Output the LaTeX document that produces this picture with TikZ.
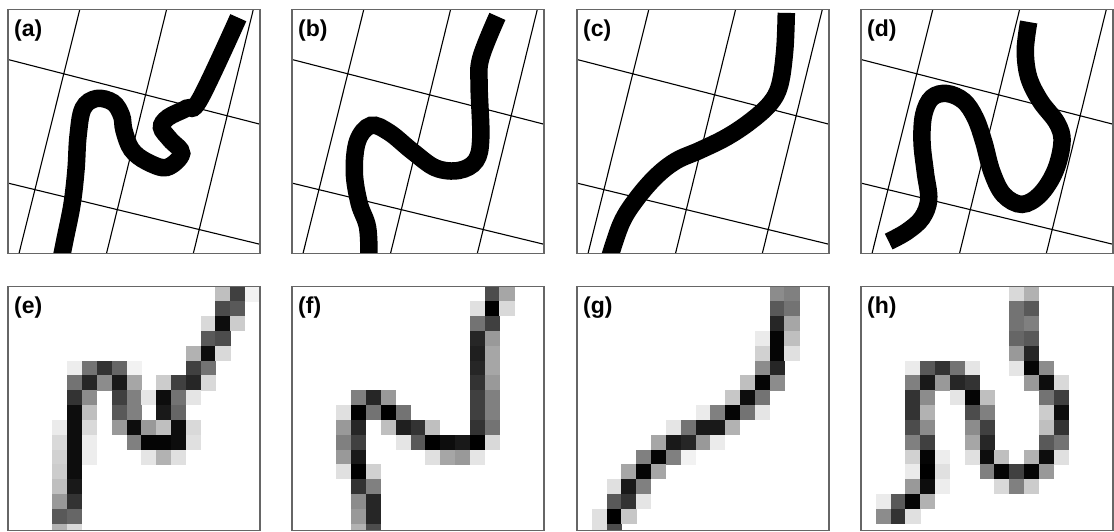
\documentclass[tikz,border=0pt]{standalone}
\usepackage{fontspec}
\setmainfont{Liberation Sans}
\newcommand\mygrid{\draw[gridln] (71.8,0) -- (11,244) (158.6,0) -- (98.5,244) (245.3,0) -- (185.3,244) (0,50) -- (252,114.7) (0,173.6) -- (252,234.8);}
\newcommand\mypixels[1]{\foreach \c/\r/\d in {#1} {\fill[black!\d] (\c*14.82,\r*14.82) rectangle ++(15.1,15.1);}}
\begin{document}
\begin{tikzpicture}[x=1pt,y=-1pt,
  frame/.style={draw=black!60,line width=1.6pt},
  gridln/.style={draw=black,line width=1.1pt},
  curve/.style={draw=black,line width=17.5pt},
  lbl/.style={anchor=north west,inner sep=0pt,font=\fontsize{23}{23}\selectfont\bfseries}]
\useasboundingbox (0,0) rectangle (1114,532);
\fill[white] (0,0) rectangle (1114,532);
% (a)
\begin{scope}[shift={(8,9.5)}]
 \begin{scope}
  \clip (0,0) rectangle (252,244);
  \mygrid
  \draw[curve] plot[smooth,tension=0.6] coordinates {(53,250) (57,230) (64,195) (68,160) (70,127) (75,99) (88.5,89) (105,93) (113.5,106) (116,121) (123.5,140) (138.5,152) (158.6,158) (173.6,144) (162,130) (153.5,118) (160,108) (178.6,98.7) (191.9,89.8) (230.3,8.2)};
 \end{scope}
 \draw[frame] (0,0) rectangle (252,244);
 \node[lbl] (la) at (6,10) {(a)};
\end{scope}
% (b)
\begin{scope}[shift={(292,9.5)}]
 \begin{scope}
  \clip (0,0) rectangle (252,244);
  \mygrid
  \draw[curve] plot[smooth,tension=0.6] coordinates {(77,250) (75.6,218) (67.2,193.8) (62.3,162.7) (65.6,131.5) (78.9,115.9) (97.2,122.9) (120.5,141.9) (143.8,158.5) (167.1,160.9) (183.8,151.2) (188.8,128.1) (187.1,76.1) (188.8,48.5) (205.4,6.9)};
 \end{scope}
 \draw[frame] (0,0) rectangle (252,244);
 \node[lbl] (lb) at (6,10) {(b)};
\end{scope}
% (c)
\begin{scope}[shift={(577,9.5)}]
 \begin{scope}
  \clip (0,0) rectangle (252,244);
  \mygrid
  \draw[curve] plot[smooth,tension=0.6] coordinates {(209.3,3.4) (207.7,41.2) (202.7,75.6) (192.7,94.5) (172.7,112.4) (149.3,127.9) (122.7,140.9) (99.3,151.2) (79.3,166.7) (59.3,189.7) (44.3,213.8) (32,250)};
 \end{scope}
 \draw[frame] (0,0) rectangle (252,244);
 \node[lbl] (lc) at (6,10) {(c)};
\end{scope}
% (d)
\begin{scope}[shift={(861,9.5)}]
 \begin{scope}
  \clip (0,0) rectangle (252,244);
  \mygrid
  \draw[curve] plot[smooth,tension=0.6] coordinates {(27.7,232.1) (46,222) (61,208.5) (67.7,189.8) (64.3,162.7) (61,132.2) (62.7,105.1) (71,88.1) (86,84) (102.7,91.5) (114.3,108.4) (122.7,132.2) (131,162.7) (142.7,185.4) (161,194.9) (179.3,184.7) (194.3,161) (201,132.2) (196,113.5) (179.3,91.5) (167.7,67.8) (164.3,40.7) (167.7,12.5)};
 \end{scope}
 \draw[frame] (0,0) rectangle (252,244);
 \node[lbl] (ld) at (6,10) {(d)};
\end{scope}
% (e)
\begin{scope}[shift={(8,286.5)}]
 \begin{scope}
  \clip (0,0) rectangle (252,244);
  \mypixels{14/0/25, 15/0/75, 16/0/5,
   14/1/70, 15/1/65,
   13/2/15, 14/2/95, 15/2/20,
   13/3/65, 14/3/70,
   12/4/30, 13/4/95, 14/4/15,
   4/5/7, 5/5/55, 6/5/80, 7/5/60, 8/5/5, 12/5/75, 13/5/55,
   4/6/55, 5/6/85, 6/6/45, 7/6/90, 8/6/35, 10/6/20, 11/6/75, 12/6/85, 13/6/15,
   4/7/80, 5/7/45, 7/7/75, 8/7/50, 9/7/10, 10/7/95, 11/7/55, 12/7/10,
   4/8/95, 5/8/25, 7/8/65, 8/8/50, 10/8/90, 11/8/60,
   3/9/8, 4/9/95, 5/9/15, 7/9/40, 8/9/95, 9/9/40, 10/9/25, 11/9/95, 12/9/15,
   3/10/15, 4/10/95, 5/10/7, 8/10/50, 9/10/98, 10/10/98, 11/10/95, 12/10/12,
   3/11/18, 4/11/95, 5/11/7, 9/11/10, 10/11/30, 11/11/12,
   3/12/20, 4/12/95,
   3/13/25, 4/13/90,
   3/14/40, 4/14/80,
   3/15/65, 4/15/60,
   3/16/30, 4/16/15}
 \end{scope}
 \draw[frame] (0,0) rectangle (252,244);
 \node[lbl] (le) at (6,10) {(e)};
\end{scope}
% (f)
\begin{scope}[shift={(292,286.5)}]
 \begin{scope}
  \clip (0,0) rectangle (252,244);
  \mypixels{13/0/70, 14/0/35,
   12/1/12, 13/1/100, 14/1/15,
   12/2/55, 13/2/75,
   12/3/85, 13/3/40,
   12/4/88, 13/4/35,
   12/5/85, 13/5/35,
   12/6/80, 13/6/40,
   4/7/50, 5/7/85, 6/7/40, 12/7/75, 13/7/50,
   3/8/12, 4/8/100, 5/8/55, 6/8/100, 7/8/55, 12/8/75, 13/8/50,
   3/9/40, 4/9/85, 6/9/25, 7/9/88, 8/9/80, 9/9/25, 12/9/80, 13/9/55,
   3/10/50, 4/10/75, 7/10/10, 8/10/65, 9/10/100, 10/10/95, 11/10/90, 12/10/100, 13/10/15,
   3/11/40, 4/11/90, 9/11/12, 10/11/35, 11/11/40, 12/11/10,
   3/12/12, 4/12/100, 5/12/18,
   4/13/80, 5/13/50,
   4/14/45, 5/14/85,
   4/15/40, 5/15/85,
   4/16/30, 5/16/70}
 \end{scope}
 \draw[frame] (0,0) rectangle (252,244);
 \node[lbl] (lf) at (6,10) {(f)};
\end{scope}
% (g)
\begin{scope}[shift={(577,286.5)}]
 \begin{scope}
  \clip (0,0) rectangle (252,244);
  \mypixels{13/0/45, 14/0/50,
   13/1/65, 14/1/55,
   13/2/85, 14/2/35,
   12/3/8, 13/3/98, 14/3/25,
   12/4/18, 13/4/98, 14/4/12,
   12/5/45, 13/5/85,
   11/6/25, 12/6/98, 13/6/45,
   10/7/22, 11/7/95, 12/7/55,
   8/8/8, 9/8/50, 10/8/98, 11/8/55, 12/8/10,
   6/9/10, 7/9/55, 8/9/90, 9/9/90, 10/9/30,
   5/10/35, 6/10/90, 7/10/85, 8/10/40, 9/10/8,
   4/11/50, 5/11/98, 6/11/50, 7/11/5,
   3/12/35, 4/12/98, 5/12/35,
   2/13/12, 3/13/90, 4/13/50,
   2/14/65, 3/14/80, 4/14/10,
   1/15/12, 2/15/100, 3/15/22,
   1/16/12, 2/16/70}
 \end{scope}
 \draw[frame] (0,0) rectangle (252,244);
 \node[lbl] (lg) at (6,10) {(g)};
\end{scope}
% (h)
\begin{scope}[shift={(861,286.5)}]
 \begin{scope}
  \clip (0,0) rectangle (252,244);
  \mypixels{10/0/15, 11/0/30,
   10/1/55, 11/1/65,
   10/2/55, 11/2/50,
   10/3/60, 11/3/65,
   10/4/40, 11/4/85,
   3/5/8, 4/5/65, 5/5/80, 6/5/55, 7/5/10, 10/5/10, 11/5/98, 12/5/45,
   3/6/50, 4/6/90, 5/6/40, 6/6/85, 7/6/80, 11/6/40, 12/6/95, 13/6/15,
   3/7/80, 4/7/45, 6/7/10, 7/7/98, 8/7/25, 12/7/55, 13/7/75,
   3/8/80, 4/8/30, 7/8/70, 8/8/50, 12/8/20, 13/8/95,
   3/9/70, 4/9/45, 7/9/45, 8/9/75, 12/9/25, 13/9/80,
   3/10/50, 4/10/75, 7/10/35, 8/10/85, 12/10/65, 13/10/55,
   3/11/18, 4/11/98, 5/11/7, 7/11/12, 8/11/95, 9/11/25, 11/11/30, 12/11/95, 13/11/12,
   3/12/8, 4/12/100, 5/12/12, 8/12/50, 9/12/98, 10/12/75, 11/12/98, 12/12/40,
   3/13/40, 4/13/95, 5/13/7, 9/13/15, 10/13/50, 11/13/20,
   1/14/8, 2/14/65, 3/14/98, 4/14/30,
   1/15/45, 2/15/80, 3/15/12}
 \end{scope}
 \draw[frame] (0,0) rectangle (252,244);
 \node[lbl] (lh) at (6,10) {(h)};
\end{scope}
\end{tikzpicture}
\end{document}
